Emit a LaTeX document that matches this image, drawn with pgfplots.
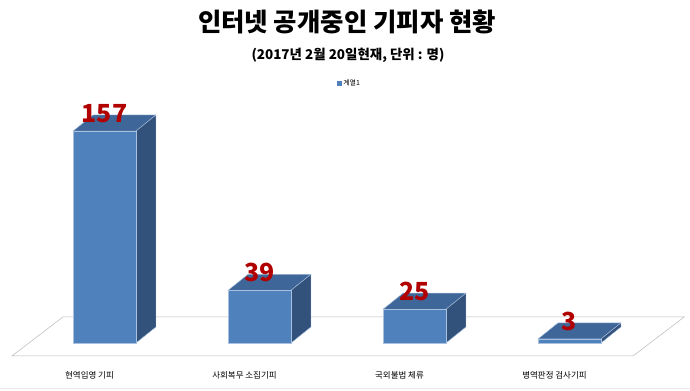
\documentclass[border=0pt]{standalone}
\usepackage{fontspec}
\setmainfont{Noto Sans CJK KR}
\usepackage{pgfplots}
\pgfplotsset{compat=1.18}
\definecolor{front}{HTML}{4F81BD}
\definecolor{topf}{HTML}{3E6699}
\definecolor{side}{HTML}{33527B}
\definecolor{edge}{HTML}{A9C1DF}
\definecolor{lbl}{HTML}{B00000}
\begin{document}
\begin{tikzpicture}
\path[use as bounding box] (0,0) rectangle (690bp,391bp);
\draw[gray!15, line width=0.8bp] (0bp,2.5bp) -- (690bp,2.5bp);
\node[font=\bfseries\fontsize{25.5}{27}\selectfont] at (347bp,369bp) {인터넷 공개중인 기피자 현황};
\node[font=\bfseries\fontsize{13.5}{15}\selectfont] at (348bp,336bp) {(2017년 2월 20일현재, 단위 : 명)};
\begin{axis}[
  at={(27bp,48bp)}, anchor=south west,
  scale only axis, width=620bp, height=243bp,
  xmin=-0.5, xmax=3.5, ymin=0, ymax=180,
  clip=false,
  /pgf/number format/assume math mode=true,
  axis line style={draw=none},
  major tick length=0pt,
  ytick=\empty,
  xtick={0,1,2,3},
  xticklabels={현역입영 기피, 사회복무 소집기피, 국외불법 체류, 병역판정 검사기피},
  xticklabel style={font=\fontsize{8.5}{10}\selectfont, xshift=-15bp, yshift=-25bp},
  legend style={at={(0.52,1.07)}, anchor=center, draw=none, fill=none,
    font=\fontsize{7}{8}\selectfont, inner sep=1pt},
  legend image code/.code={\fill[front] (0bp,-2bp) rectangle (4bp,2bp);},
]
% floor
\addplot[draw=gray!55, line width=0.5bp, fill=white, forget plot] coordinates {(-0.597,-9.6) (3.41,-9.6) (3.74,19.3) (-0.268,19.3)} -- cycle;
% top faces
\addplot[fill=topf, draw=edge, line width=0.4bp, forget plot] coordinates {(-0.203,157) (-0.074,168.9) (0.332,168.9) (0.203,157)} -- cycle;
\addplot[fill=topf, draw=edge, line width=0.4bp, forget plot] coordinates {(0.797,39) (0.926,50.9) (1.332,50.9) (1.203,39)} -- cycle;
\addplot[fill=topf, draw=edge, line width=0.4bp, forget plot] coordinates {(1.797,25) (1.926,36.9) (2.332,36.9) (2.203,25)} -- cycle;
\addplot[fill=topf, draw=edge, line width=0.4bp, forget plot] coordinates {(2.797,3) (2.926,14.9) (3.332,14.9) (3.203,3)} -- cycle;
% side faces
\addplot[fill=side, draw=edge, line width=0.4bp, forget plot] coordinates {(0.203,157) (0.332,168.9) (0.332,11.9) (0.203,0)} -- cycle;
\addplot[fill=side, draw=edge, line width=0.4bp, forget plot] coordinates {(1.203,39) (1.332,50.9) (1.332,11.9) (1.203,0)} -- cycle;
\addplot[fill=side, draw=edge, line width=0.4bp, forget plot] coordinates {(2.203,25) (2.332,36.9) (2.332,11.9) (2.203,0)} -- cycle;
\addplot[fill=side, draw=edge, line width=0.4bp, forget plot] coordinates {(3.203,3) (3.332,14.9) (3.332,11.9) (3.203,0)} -- cycle;
% front faces
\addplot[ybar, bar width=63bp, fill=front, draw=edge, line width=0.5bp,
  nodes near coords,
  every node near coord/.append style={font=\bfseries\fontsize{25}{26}\selectfont, text=lbl, anchor=south, inner sep=0pt, yshift=8bp}]
  coordinates {(0,157) (1,39) (2,25) (3,3)};
\addlegendentry{계열1}
\end{axis}
\end{tikzpicture}
\end{document}
